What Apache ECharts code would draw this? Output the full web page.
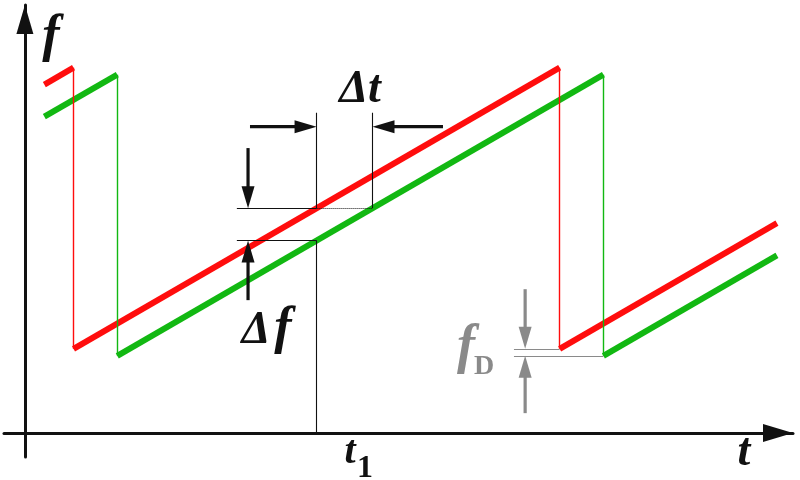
<!DOCTYPE html>
<html><head><meta charset="utf-8">
<script src="https://cdn.jsdelivr.net/npm/echarts@6/dist/echarts.min.js"></script>
<style>html,body{margin:0;padding:0;background:#fff}#c{width:800px;height:480px}
#pre{position:absolute;left:-1000px;top:0;font-family:'Liberation Serif';font-weight:bold;font-style:italic;font-size:20px}
#pre2{position:absolute;left:-1000px;top:30px;font-family:'Liberation Serif';font-weight:bold;font-size:20px}</style>
</head><body><span id="pre">Δft</span><span id="pre2">1D</span><div id="c"></div>
<script>
// time t (arbitrary units, chirp period 10), frequency f (arbitrary units)
const redRamps = [
  [[0.4, 124], [1, 130]],
  [[1, 30], [11, 130]],
  [[11, 30], [15.47, 74.7]]
];
const redDrops = [
  [[1, 130], [1, 30]],
  [[11, 130], [11, 30]]
];
const greenRamps = [
  [[0.4, 112.6], [1.9, 127.5]],
  [[1.9, 27.5], [11.9, 127.5]],
  [[11.9, 27.5], [15.47, 63.2]]
];
const greenDrops = [
  [[1.9, 127.5], [1.9, 27.5]],
  [[11.9, 127.5], [11.9, 27.5]]
];
const guideLines = [
  [[6, 114], [6, 80]],
  [[6, 68.5], [6, 0]],
  [[7.15, 114], [7.15, 80]],
  [[4.36, 80], [6, 80]],
  [[4.36, 68.5], [6, 68.5]]
];
const dottedLines = [
  [[6, 80], [7.15, 80]]
];
const grayLines = [
  [[10.06, 30], [11, 30]],
  [[10.06, 27.5], [11.9, 27.5]]
];
// arrows: [tailT, tailF, tipT, tipF]
const blackArrows = [
  [4.63, 109, 6, 109],
  [8.6, 109, 7.15, 109],
  [4.59, 101.4, 4.59, 80],
  [4.59, 47.3, 4.59, 68.5]
];
const grayArrows = [
  [10.29, 51.2, 10.29, 30],
  [10.29, 7.1, 10.29, 27.5]
];

const RED = '#ff0d0d', GREEN = '#12b812', GRAY = '#8a8a8a', BLACK = '#111';
const SERIF = '"Liberation Serif"';

function segs(arr) { return arr.map(c => ({ coords: c })); }
function linesSeries(arr, color, width, type, z) {
  return {
    type: 'lines', coordinateSystem: 'cartesian2d', z: z, silent: true,
    polyline: false, symbol: 'none', animation: false,
    lineStyle: { color: color, width: width, opacity: 1, type: type || 'solid', cap: 'butt' },
    data: segs(arr)
  };
}
function arrowSeries(arr, color) {
  return {
    type: 'custom', coordinateSystem: 'cartesian2d', z: 10, silent: true, animation: false,
    data: arr,
    renderItem: function (params, api) {
      const p1 = api.coord([api.value(0), api.value(1)]);
      const p2 = api.coord([api.value(2), api.value(3)]);
      const dx = p2[0] - p1[0], dy = p2[1] - p1[1];
      const L = Math.hypot(dx, dy), ux = dx / L, uy = dy / L;
      const hl = 22, hw = 13;
      const bx = p2[0] - ux * hl, by = p2[1] - uy * hl;
      const nx = -uy, ny = ux;
      return {
        type: 'group', children: [
          { type: 'line', shape: { x1: p1[0], y1: p1[1], x2: bx + ux * 2, y2: by + uy * 2 }, style: { stroke: color, lineWidth: 3.2 } },
          { type: 'polygon', shape: { points: [[p2[0], p2[1]], [bx + nx * hw / 2, by + ny * hw / 2], [bx - nx * hw / 2, by - ny * hw / 2]] }, style: { fill: color } }
        ]
      };
    }
  };
}
function txt(text, x, y, size, color, italic) {
  return {
    type: 'text', z: 100, silent: true,
    style: {
      text: text, x: x, y: y, fill: color,
      font: (italic ? 'italic ' : 'normal ') + 'bold ' + size + 'px ' + SERIF,
      align: 'center', verticalAlign: 'middle'
    }
  };
}

function render() {
  const chart = echarts.init(document.getElementById('c'), null, { renderer: 'canvas' });
  chart.setOption({
    animation: false,
    backgroundColor: '#fff',
    grid: { left: 4, right: 7, top: 5, bottom: 23 },
    xAxis: {
      type: 'value', min: -0.43, max: 15.8,
      axisLine: { onZero: true, symbol: ['none', 'triangle'], symbolSize: [18, 30], symbolOffset: [0, -15],
        lineStyle: { color: BLACK, width: 3 } },
      axisTick: { show: false }, axisLabel: { show: false }, splitLine: { show: false }
    },
    yAxis: {
      type: 'value', min: -8.5, max: 152.3,
      axisLine: { onZero: true, symbol: ['none', 'triangle'], symbolSize: [17, 29], symbolOffset: [0, -14.5],
        lineStyle: { color: BLACK, width: 3 } },
      axisTick: { show: false }, axisLabel: { show: false }, splitLine: { show: false }
    },
    series: [
      linesSeries(greenRamps, GREEN, 6, 'solid', 2),
      linesSeries(redRamps, RED, 6, 'solid', 3),
      linesSeries(redDrops, RED, 1.4, 'solid', 4),
      linesSeries(greenDrops, GREEN, 1.4, 'solid', 4),
      linesSeries(guideLines, BLACK, 1.1, 'solid', 5),
      linesSeries(dottedLines, BLACK, 1, 'dotted', 5),
      linesSeries(grayLines, GRAY, 1.2, 'solid', 5),
      arrowSeries(blackArrows, BLACK),
      arrowSeries(grayArrows, GRAY)
    ],
    graphic: [
      txt('f', 51, 38, 52, BLACK, true),
      txt('\u0394t', 360, 90, 46, BLACK, true),
      txt('\u0394', 256, 331, 46, BLACK, true),
      txt('f', 283, 330, 52, BLACK, true),
      txt('t', 744, 453, 46, BLACK, true),
      txt('t', 350, 453, 40, BLACK, true),
      txt('1', 365, 469, 32, BLACK, false),
      txt('f', 466, 348, 54, GRAY, true),
      txt('D', 484, 367, 28, GRAY, false)
    ]
  });
}
let done = false;
function go() { if (!done) { done = true; render(); } }
if (document.fonts && document.fonts.load) {
  Promise.all([
    document.fonts.load('italic bold 40px "Liberation Serif"', '\u0394ft'),
    document.fonts.load('bold 40px "Liberation Serif"', '1D')
  ]).then(go, go);
  setTimeout(go, 400);
} else { go(); }
</script>
</body></html>
